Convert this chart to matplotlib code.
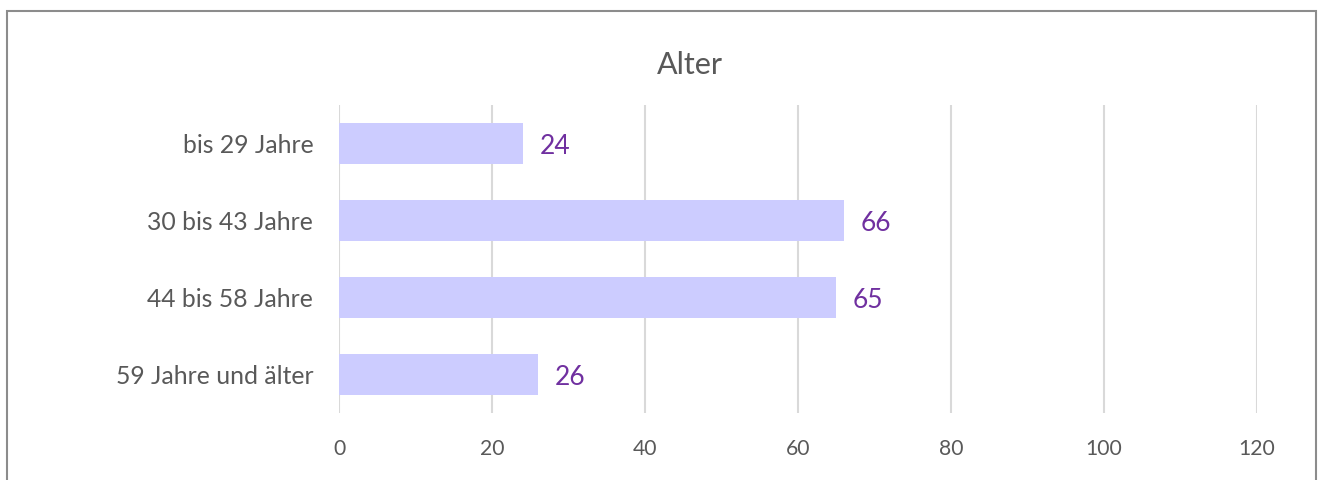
import matplotlib.pyplot as plt
from matplotlib.patches import Rectangle

# data
categories = ["bis 29 Jahre", "30 bis 43 Jahre", "44 bis 58 Jahre", "59 Jahre und älter"]
values = [24, 66, 65, 26]
x_ticks = [0, 20, 40, 60, 80, 100, 120]

W, H = 1319, 480
plt.rcParams['font.family'] = ['Lato', 'DejaVu Sans']

fig = plt.figure(figsize=(W / 100, H / 100), dpi=100)
ax = fig.add_axes([339 / W, 1 - 413 / H, (1257 - 339) / W, (413 - 105) / H])

pos = list(range(len(categories)))
ax.barh(pos, values, height=0.52, color="#CCCCFF", zorder=3)
ax.set_ylim(len(categories) - 0.5, -0.5)
ax.set_xlim(0, 120)

ax.set_xticks(x_ticks)
ax.set_yticks(pos)
ax.set_yticklabels(categories)
ax.tick_params(axis="x", length=0, pad=19, labelsize=15.2, labelcolor="#595959")
ax.tick_params(axis="y", length=0, pad=18.5, labelsize=17.8, labelcolor="#595959")
ax.grid(axis="x", color="#D9D9D9", linewidth=1.5, zorder=0)
for s in ax.spines.values():
    s.set_visible(False)

# value labels next to the bars
for p, v in zip(pos, values):
    ax.annotate(str(v), (v, p), xytext=(12, -2), textcoords="offset points",
                va="center", ha="left", fontsize=19, color="#7030A0")

fig.text(690 / W, 1 - 65 / H, "Alter", ha="center", va="center",
         fontsize=22, color="#595959")

# chart frame
fig.patches.append(Rectangle((7 / W, -0.02), (1316 - 7) / W, 1.02 - 11 / H,
                             transform=fig.transFigure, fill=False,
                             edgecolor="#8C8C8C", linewidth=1.5))

fig.savefig("out.png", dpi=100)
